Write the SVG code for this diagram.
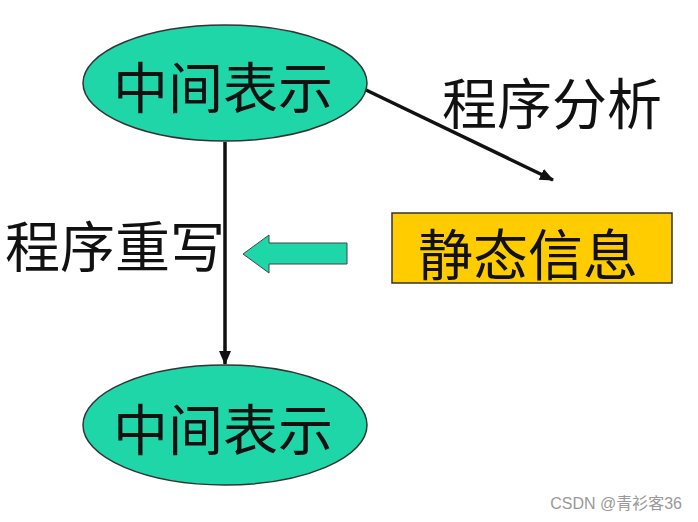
<svg xmlns="http://www.w3.org/2000/svg" width="698" height="522" viewBox="0 0 698 522">
<style>
.node{fill:#1ED6A8;stroke:#333;stroke-width:1.5}
.t{font-family:"Noto Sans CJK SC","Liberation Sans",sans-serif;font-size:55px;fill:#111;text-anchor:middle;dominant-baseline:central}
.c{stroke:#111;stroke-width:3.5;fill:none}
</style>
<defs>
<marker id="ah2" markerWidth="14" markerHeight="12" refX="13" refY="6" orient="auto" markerUnits="userSpaceOnUse" viewBox="0 0 14 12">
<path d="M0,0 L14,6 L0,12 z" fill="#111"/>
</marker>
</defs>
<rect width="698" height="522" fill="#fff"/>
<g id="connectors">
<line class="c" x1="225" y1="142" x2="225" y2="364" marker-end="url(#ah2)"/>
<line class="c" x1="366" y1="90" x2="553" y2="180" marker-end="url(#ah2)"/>
<path d="M243,254 L269,235 L269,243 L347,243 L347,264 L269,264 L269,273 Z" fill="#1ED6A8" stroke="#444" stroke-width="1"/>
</g>
<g id="ir-top">
<ellipse class="node" cx="225" cy="83" rx="142" ry="58"/>
<text class="t" x="223" y="84">中间表示</text>
</g>
<g id="ir-bottom">
<ellipse class="node" cx="225" cy="425" rx="142" ry="60"/>
<text class="t" x="223" y="426">中间表示</text>
</g>
<g id="static-info">
<rect x="392" y="213" width="280" height="70" fill="#FFCC00" stroke="#333" stroke-width="1.5"/>
<text class="t" x="528" y="251">静态信息</text>
</g>
<g id="labels">
<text class="t" x="552" y="100">程序分析</text>
<text class="t" x="115" y="243">程序重写</text>
</g>
<text x="682" y="509" font-family="'Liberation Sans','Noto Sans CJK SC',sans-serif" font-size="16" fill="#999" text-anchor="end">CSDN @青衫客36</text>
</svg>
